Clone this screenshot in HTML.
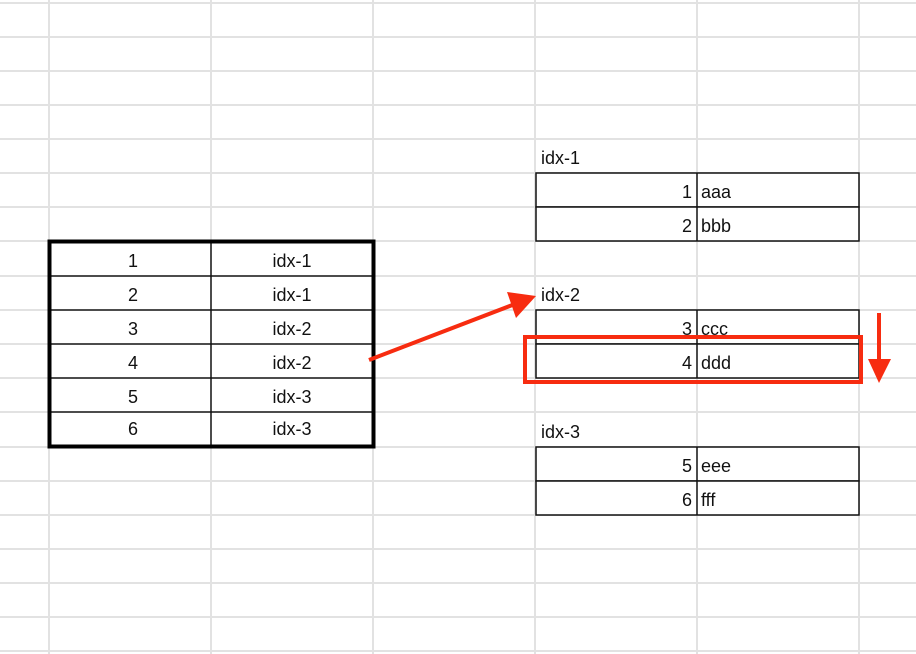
<!DOCTYPE html>
<html><head><style>body{margin:0;background:#fff}svg{display:block}text{font-family:"Liberation Sans",Arial,sans-serif;font-size:18px;fill:#111}</style></head><body>
<svg width="916" height="654" xmlns="http://www.w3.org/2000/svg">
<g stroke="#e2e2e2" stroke-width="2">
<line x1="49" y1="0" x2="49" y2="654"/><line x1="211" y1="0" x2="211" y2="654"/><line x1="373" y1="0" x2="373" y2="654"/><line x1="535" y1="0" x2="535" y2="654"/><line x1="697" y1="0" x2="697" y2="654"/><line x1="859" y1="0" x2="859" y2="654"/>
<line x1="0" y1="3" x2="916" y2="3"/><line x1="0" y1="37" x2="916" y2="37"/><line x1="0" y1="71" x2="916" y2="71"/><line x1="0" y1="105" x2="916" y2="105"/><line x1="0" y1="139" x2="916" y2="139"/><line x1="0" y1="173" x2="916" y2="173"/><line x1="0" y1="207" x2="916" y2="207"/><line x1="0" y1="241" x2="916" y2="241"/><line x1="0" y1="276" x2="916" y2="276"/><line x1="0" y1="310" x2="916" y2="310"/><line x1="0" y1="344" x2="916" y2="344"/><line x1="0" y1="378" x2="916" y2="378"/><line x1="0" y1="412" x2="916" y2="412"/><line x1="0" y1="447" x2="916" y2="447"/><line x1="0" y1="481" x2="916" y2="481"/><line x1="0" y1="515" x2="916" y2="515"/><line x1="0" y1="549" x2="916" y2="549"/><line x1="0" y1="583" x2="916" y2="583"/><line x1="0" y1="617" x2="916" y2="617"/><line x1="0" y1="651" x2="916" y2="651"/>
</g>
<!-- left table -->
<rect x="50" y="241" width="323" height="206" fill="#fff"/>
<g stroke="#111" stroke-width="1.5">
<line x1="50" y1="276" x2="373" y2="276"/><line x1="50" y1="310" x2="373" y2="310"/><line x1="50" y1="344" x2="373" y2="344"/><line x1="50" y1="378" x2="373" y2="378"/><line x1="50" y1="412" x2="373" y2="412"/><line x1="211" y1="241" x2="211" y2="447"/>
</g>
<rect x="49.5" y="241.5" width="324" height="205" fill="none" stroke="#000" stroke-width="4"/>
<g text-anchor="middle">
<text x="133" y="267">1</text><text x="292" y="267">idx-1</text>
<text x="133" y="301">2</text><text x="292" y="301">idx-1</text>
<text x="133" y="335">3</text><text x="292" y="335">idx-2</text>
<text x="133" y="369">4</text><text x="292" y="369">idx-2</text>
<text x="133" y="403">5</text><text x="292" y="403">idx-3</text>
<text x="133" y="435">6</text><text x="292" y="435">idx-3</text>
</g>
<!-- right tables -->
<g fill="#fff" stroke="#111" stroke-width="1.5">
<rect x="536" y="173" width="323" height="34"/><rect x="536" y="207" width="323" height="34"/>
<rect x="536" y="310" width="323" height="34"/><rect x="536" y="344" width="323" height="34"/>
<rect x="536" y="447" width="323" height="34"/><rect x="536" y="481" width="323" height="34"/>
<line x1="697" y1="173" x2="697" y2="241"/><line x1="697" y1="310" x2="697" y2="378"/><line x1="697" y1="447" x2="697" y2="515"/>
</g>
<text x="541" y="164">idx-1</text><text x="541" y="301">idx-2</text><text x="541" y="438">idx-3</text>
<g text-anchor="end">
<text x="692" y="198">1</text><text x="692" y="232">2</text><text x="692" y="335">3</text><text x="692" y="369">4</text><text x="692" y="472">5</text><text x="692" y="506">6</text>
</g>
<text x="701" y="198">aaa</text><text x="701" y="232">bbb</text><text x="701" y="335">ccc</text><text x="701" y="369">ddd</text><text x="701" y="472">eee</text><text x="701" y="506">fff</text>
<!-- red -->
<rect x="525" y="337" width="336" height="45" fill="none" stroke="#f72c10" stroke-width="4"/>
<line x1="369" y1="360" x2="515" y2="304" stroke="#f72c10" stroke-width="4"/>
<polygon points="536,296 507,292 516,318" fill="#f72c10"/>
<line x1="879" y1="313" x2="879" y2="362" stroke="#f72c10" stroke-width="4"/>
<polygon points="868,359 891,359 879,383" fill="#f72c10"/>
</svg>
</body></html>
